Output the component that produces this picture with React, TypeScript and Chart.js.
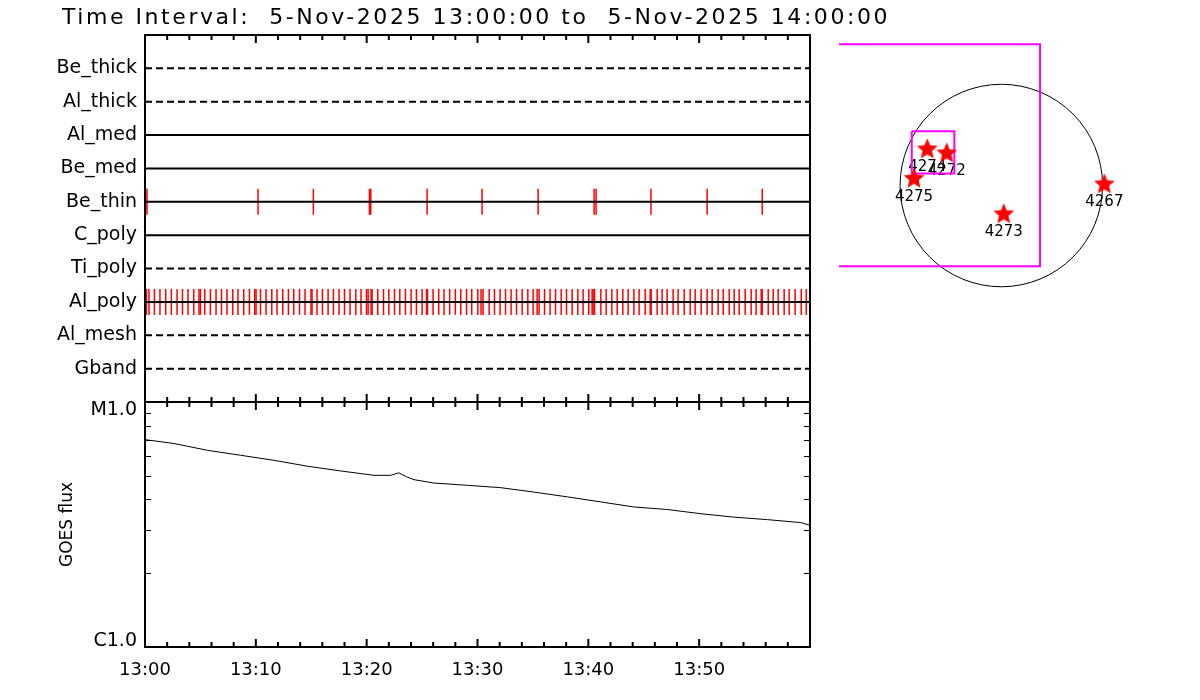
import React, { useEffect, useRef } from 'react';
import { Chart, registerables } from 'chart.js';

Chart.register(...registerables);

const FONT = '"DejaVu Sans", "Liberation Sans", sans-serif';

// ---------------- data ----------------
const titleText = 'Time Interval:  5-Nov-2025 13:00:00 to  5-Nov-2025 14:00:00';

const filterNames = ['Be_thick', 'Al_thick', 'Al_med', 'Be_med', 'Be_thin', 'C_poly', 'Ti_poly', 'Al_poly', 'Al_mesh', 'Gband'];

// exposure times, minutes after 13:00
const beThinTimes = [0.06, 0.18, 10.2, 15.19, 20.25, 20.37, 25.45, 30.41, 35.47, 40.52, 40.7, 45.65, 50.72, 55.69];

const alPolyTimes = [
  0.13, 0.36, 0.85, 1.35, 1.87, 2.38, 2.89, 3.38, 3.88, 4.4, 4.87, 5.0, 5.39, 5.9, 6.41, 6.9,
  7.4, 7.92, 8.39, 8.91, 9.42, 9.9, 10.02, 10.42, 10.92, 11.44, 11.91, 12.43, 12.94, 13.42, 13.94, 14.44,
  14.98, 15.07, 15.52, 16.01, 16.52, 17.0, 17.51, 18.0, 18.5, 19.02, 19.49, 19.98, 20.13, 20.4, 20.49, 21.0,
  21.52, 22.0, 22.51, 22.99, 23.5, 24.01, 24.49, 25.0, 25.4, 25.49, 25.99, 26.5, 26.98, 27.49, 28.0, 28.49,
  29.01, 29.48, 30.03, 30.32, 30.5, 31.05, 31.53, 32.04, 32.53, 33.03, 33.52, 34.03, 34.54, 35.02, 35.38, 35.56,
  36.05, 36.55, 37.04, 37.55, 38.03, 38.54, 39.05, 39.53, 40.04, 40.34, 40.43, 40.56, 41.13, 41.61, 42.12, 42.6,
  43.11, 43.59, 44.11, 44.58, 45.13, 45.58, 45.67, 46.21, 46.66, 47.11, 47.65, 48.1, 48.65, 49.19, 49.64, 50.18,
  50.72, 51.17, 51.71, 52.17, 52.71, 53.16, 53.61, 54.15, 54.69, 55.14, 55.6, 55.69, 56.23, 56.68, 57.13, 57.67,
  58.12, 58.66, 59.21, 59.66,
];

const timeTickLabels = ['13:00', '13:10', '13:20', '13:30', '13:40', '13:50'];

// GOES flux (W/m^2), minutes after 13:00
const goesTimes = [0, 2.62, 5.63, 8.64, 11.64, 14.65, 17.66, 20.66, 22.17, 22.9, 23.6, 24.27, 26.05, 29.09, 32.1, 35.07, 38.11, 41.12, 44.09, 47.13, 50.14, 53.11, 56.16, 59.17, 60];
const goesFlux = [7.02e-6, 6.77e-6, 6.35e-6, 6.06e-6, 5.78e-6, 5.47e-6, 5.23e-6, 5.02e-6, 5.02e-6, 5.14e-6, 4.95e-6, 4.82e-6, 4.67e-6, 4.57e-6, 4.47e-6, 4.29e-6, 4.1e-6, 3.91e-6, 3.73e-6, 3.64e-6, 3.5e-6, 3.39e-6, 3.31e-6, 3.22e-6, 3.14e-6];
const goesLabelValues = [1e-5, 1e-6];
const goesLabels = ['M1.0', 'C1.0'];

// Active regions (arcsec)
const arNames = ['4274', '4272', '4275', '4273', '4267'];
const arX = [-709, -523, -836, 23, 987];
const arY = [356, 318, 75, -266, 21];

// XRT fields of view (arcsec), corners
const fovLargeX = [-1756, 371, 371, -1756, -1756];
const fovLargeY = [1353, 1353, -774, -774, 1353];
const fovSmallX = [-858, -450, -450, -858, -858];
const fovSmallY = [520, 520, 115, 115, 520];
const solarRadius = 970;

// ---------------- styles ----------------
const dashedFilters = ['Be_thick', 'Al_thick', 'Ti_poly', 'Al_mesh', 'Gband'];
const rowOf = (name: string) => filterNames.length - filterNames.indexOf(name);

function makeStar(R: number, color: string) {
  const size = Math.ceil(R * 2) + 2;
  const c = document.createElement('canvas');
  c.width = size;
  c.height = size;
  const g = c.getContext('2d')!;
  g.fillStyle = color;
  g.beginPath();
  for (let k = 0; k < 10; k++) {
    const r = k % 2 === 0 ? R : R * 0.45;
    const ang = -Math.PI / 2 + (k * Math.PI) / 5;
    const px = size / 2 + r * Math.cos(ang);
    const py = size / 2 + 1 + r * Math.sin(ang);
    if (k === 0) g.moveTo(px, py);
    else g.lineTo(px, py);
  }
  g.closePath();
  g.fill();
  return c;
}

function drawXTicks(ctx: CanvasRenderingContext2D, x: any, y0: number, dir: number) {
  for (let m = 0; m <= 60; m += 2) {
    const px = x.getPixelForValue(m);
    const len = m % 10 === 0 ? 8 : 5;
    ctx.beginPath();
    ctx.moveTo(px, y0);
    ctx.lineTo(px, y0 + dir * len);
    ctx.stroke();
  }
}

const timelineFrame = {
  id: 'timelineFrame',
  afterDraw(chart: any) {
    const { ctx, chartArea: a, scales } = chart;
    ctx.save();
    ctx.strokeStyle = '#000';
    ctx.lineWidth = 2;
    ctx.strokeRect(a.left, a.top, a.right - a.left, a.bottom - a.top);
    drawXTicks(ctx, scales.x, a.top, 1);
    drawXTicks(ctx, scales.x, a.bottom, -1);
    ctx.fillStyle = '#000';
    ctx.font = `22px ${FONT}`;
    ctx.textAlign = 'left';
    ctx.textBaseline = 'alphabetic';
    (ctx as any).letterSpacing = '0px';
    const w = ctx.measureText(titleText).width;
    const sp = (828 - w) / titleText.length;
    (ctx as any).letterSpacing = `${sp.toFixed(2)}px`;
    ctx.fillText(titleText, 62, 24);
    ctx.restore();
  },
};

const goesFrame = {
  id: 'goesFrame',
  afterDraw(chart: any) {
    const { ctx, chartArea: a, scales } = chart;
    ctx.save();
    ctx.strokeStyle = '#000';
    ctx.lineWidth = 2;
    ctx.strokeRect(a.left, a.top, a.right - a.left, a.bottom - a.top);
    drawXTicks(ctx, scales.x, a.top, 1);
    drawXTicks(ctx, scales.x, a.bottom, -1);
    ctx.lineWidth = 1;
    for (let k = 2; k <= 9; k++) {
      const py = Math.round(scales.y.getPixelForValue(k * 1e-6)) + 0.5;
      ctx.beginPath();
      ctx.moveTo(a.left, py);
      ctx.lineTo(a.left + 6, py);
      ctx.moveTo(a.right, py);
      ctx.lineTo(a.right - 6, py);
      ctx.stroke();
    }
    ctx.fillStyle = '#000';
    ctx.font = `19px ${FONT}`;
    ctx.textAlign = 'right';
    ctx.textBaseline = 'middle';
    goesLabelValues.forEach((v, i) => {
      const py = scales.y.getPixelForValue(v);
      const shift = py < (a.top + a.bottom) / 2 ? 8 : -6;
      ctx.fillText(goesLabels[i], a.left - 8, py + shift);
    });
    ctx.restore();
  },
};

const diskDecor = {
  id: 'diskDecor',
  beforeDatasetsDraw(chart: any) {
    const { ctx, scales } = chart;
    const cx = scales.x.getPixelForValue(0);
    const cy = scales.y.getPixelForValue(0);
    const rx = scales.x.getPixelForValue(solarRadius) - cx;
    const ry = cy - scales.y.getPixelForValue(solarRadius);
    ctx.save();
    ctx.strokeStyle = '#000';
    ctx.lineWidth = 1;
    ctx.beginPath();
    ctx.ellipse(cx, cy, rx, ry, 0, 0, Math.PI * 2);
    ctx.stroke();
    ctx.fillStyle = '#000';
    ctx.font = `15px ${FONT}`;
    ctx.textAlign = 'center';
    ctx.textBaseline = 'middle';
    arNames.forEach((n, i) => {
      ctx.fillText(n, scales.x.getPixelForValue(arX[i]), scales.y.getPixelForValue(arY[i]) + 19);
    });
    ctx.restore();
  },
};

export default function App() {
  const aRef = useRef<HTMLCanvasElement>(null);
  const bRef = useRef<HTMLCanvasElement>(null);
  const cRef = useRef<HTMLCanvasElement>(null);

  useEffect(() => {
    Chart.defaults.font.family = FONT;
    Chart.defaults.color = '#000';

    const lineSets = filterNames.map((name) => ({
      type: 'line',
      data: [
        { x: 0, y: rowOf(name) },
        { x: 60, y: rowOf(name) },
      ],
      borderColor: '#000',
      borderWidth: 2,
      borderDash: dashedFilters.includes(name) ? [7, 4] : [],
      pointRadius: 0,
      tension: 0,
    }));
    const exposureSet = (times: number[], name: string) => ({
      type: 'scatter',
      data: times.map((t) => ({ x: t, y: rowOf(name) })),
      pointStyle: 'line',
      pointRotation: 90,
      pointRadius: 13,
      pointHoverRadius: 13,
      pointBorderColor: '#ff0000',
      pointBackgroundColor: '#ff0000',
      pointBorderWidth: 1.5,
    });

    const chartA = new Chart(aRef.current!, {
      type: 'scatter',
      data: {
        datasets: [...lineSets, exposureSet(beThinTimes, 'Be_thin'), exposureSet(alPolyTimes, 'Al_poly')] as any,
      },
      options: {
        responsive: false,
        animation: false,
        devicePixelRatio: 1,
        events: [],
        layout: { autoPadding: false, padding: { left: 0, top: 35, right: 90, bottom: 2 } },
        plugins: { legend: { display: false }, tooltip: { enabled: false } },
        scales: {
          x: { type: 'linear', min: 0, max: 60, display: false },
          y: {
            type: 'linear',
            min: 0,
            max: 11,
            afterFit: (s: any) => {
              s.width = 145;
              s.paddingTop = 0;
              s.paddingBottom = 0;
            },
            grid: { display: false, drawTicks: false },
            border: { display: false },
            ticks: {
              stepSize: 1,
              autoSkip: false,
              padding: 8,
              color: '#000',
              font: { family: FONT, size: 19 },
              callback: (v: any) => (v >= 1 && v <= filterNames.length ? filterNames[filterNames.length - v] : null),
            },
          },
        },
      } as any,
      plugins: [timelineFrame],
    });

    const chartB = new Chart(bRef.current!, {
      type: 'line',
      data: {
        datasets: [
          {
            data: goesTimes.map((t, i) => ({ x: t, y: goesFlux[i] })),
            borderColor: '#000',
            borderWidth: 1,
            pointRadius: 0,
            tension: 0,
          },
        ],
      },
      options: {
        responsive: false,
        animation: false,
        devicePixelRatio: 1,
        events: [],
        layout: { autoPadding: false, padding: { left: 0, top: 7, right: 20, bottom: 0 } },
        plugins: { legend: { display: false }, tooltip: { enabled: false } },
        scales: {
          x: {
            type: 'linear',
            min: 0,
            max: 60,
            afterFit: (s: any) => {
              s.height = 53;
            },
            grid: { display: false, drawTicks: false },
            border: { display: false },
            ticks: {
              stepSize: 10,
              autoSkip: false,
              maxRotation: 0,
              padding: 13,
              color: '#000',
              font: { family: FONT, size: 18 },
              callback: (v: any) => timeTickLabels[Math.round(v / 10)] ?? '',
            },
          },
          y: {
            type: 'logarithmic',
            min: 1e-6,
            max: 1e-5,
            afterFit: (s: any) => {
              s.width = 145;
            },
            grid: { display: false, drawTicks: false },
            border: { display: false },
            ticks: { display: false },
            title: {
              display: true,
              text: 'GOES flux',
              color: '#000',
              font: { family: FONT, size: 17 },
              padding: { top: 57, bottom: 0 },
            },
          },
        },
      } as any,
      plugins: [goesFrame],
    });

    const star = makeStar(11, '#ff0000');
    const chartC = new Chart(cRef.current!, {
      type: 'scatter',
      data: {
        datasets: [
          {
            type: 'scatter',
            data: arX.map((x, i) => ({ x, y: arY[i] })),
            pointStyle: star,
            pointRadius: 11,
          },
          {
            type: 'line',
            data: fovSmallX.map((x, i) => ({ x, y: fovSmallY[i] })),
            borderColor: '#ff00ff',
            borderWidth: 2,
            pointRadius: 0,
            tension: 0,
          },
          {
            type: 'line',
            data: fovLargeX.map((x, i) => ({ x, y: fovLargeY[i] })),
            borderColor: '#ff00ff',
            borderWidth: 2,
            pointRadius: 0,
            tension: 0,
          },
        ] as any,
      },
      options: {
        responsive: false,
        animation: false,
        devicePixelRatio: 1,
        events: [],
        layout: { autoPadding: false, padding: 0 },
        plugins: { legend: { display: false }, tooltip: { enabled: false } },
        scales: {
          x: { type: 'linear', min: -1555, max: 1798, display: false },
          y: { type: 'linear', min: -1432, max: 1442, display: false },
        },
      } as any,
      plugins: [diskDecor],
    });

    return () => {
      chartA.destroy();
      chartB.destroy();
      chartC.destroy();
    };
  }, []);

  return (
    <div style={{ position: 'fixed', left: 0, top: 0, width: 1200, height: 700, background: '#fff', overflow: 'hidden' }}>
      <canvas ref={aRef} width={900} height={404} style={{ position: 'absolute', left: 0, top: 0, width: 900, height: 404 }} />
      <canvas ref={bRef} width={830} height={305} style={{ position: 'absolute', left: 0, top: 395, width: 830, height: 305 }} />
      <canvas ref={cRef} width={350} height={300} style={{ position: 'absolute', left: 839, top: 35, width: 350, height: 300 }} />
    </div>
  );
}
